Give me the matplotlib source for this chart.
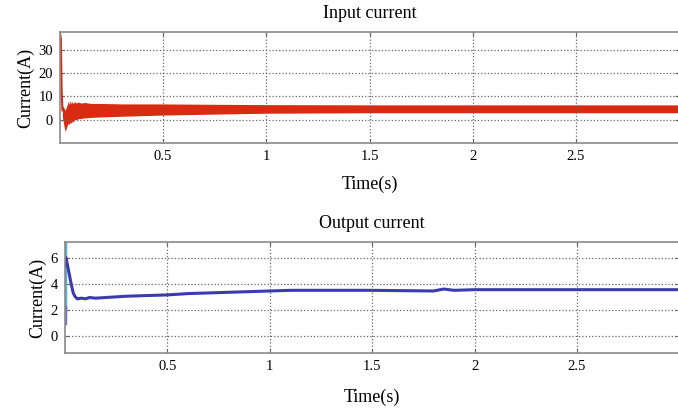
import matplotlib
matplotlib.use("Agg")
from matplotlib import pyplot as plt

# input current: start-up spike, then a ripple band (upper / lower envelope)
spike_t = [0.0, 0.004, 0.008, 0.012]
spike_i = [37, 35, 12, 4]
band_t = [0.012, 0.02, 0.025, 0.035, 0.04, 0.045, 0.05, 0.055, 0.06, 0.065, 0.07,
          0.08, 0.09, 0.1, 0.12, 0.15, 0.2, 0.3, 0.5, 0.8, 1.0, 1.5, 2.0, 3.0]
band_hi = [6, 5, 4, 6.5, 8, 6.5, 8.2, 6.8, 8, 6.8, 7.8,
           7.2, 7.6, 7.2, 7.4, 7.0, 7, 6.8, 6.8, 6.6, 6.5, 6.4, 6.4, 6.4]
band_lo = [1, -3, -5, -2.5, -1.5, -2, -1, -1.5, -0.5, -1, 0,
           0, 0.5, 0.5, 0.8, 1.0, 1.2, 1.5, 2, 2.5, 2.8, 3, 3, 3]

# output current
out_t = [0, 0.005, 0.01, 0.02, 0.03, 0.04, 0.05, 0.06, 0.08, 0.1, 0.12, 0.15, 0.2,
         0.25, 0.3, 0.4, 0.5, 0.6, 0.7, 0.8, 0.9, 1.0, 1.1, 1.2, 1.5, 1.8, 1.85,
         1.9, 2.0, 2.5, 3.0]
out_i = [5.4, 6.0, 5.6, 4.8, 4.0, 3.3, 3.0, 2.85, 2.9, 2.85, 2.95, 2.9, 2.95,
         3.0, 3.05, 3.1, 3.15, 3.25, 3.3, 3.35, 3.4, 3.45, 3.5, 3.5, 3.5, 3.45, 3.6,
         3.5, 3.55, 3.55, 3.55]
cyan_t = [0, 0]
cyan_i = [7.2, 2.2]
stub_t = [0, 0]
stub_i = [2.2, 1.0]

x_ticks = [0.5, 1, 1.5, 2, 2.5]
x_labels = ["0.5", "1", "1.5", "2", "2.5"]

plt.rcParams['font.family'] = ['Liberation Serif', 'DejaVu Serif']

fig = plt.figure(figsize=(6.78, 4.08), dpi=100)
ax1 = fig.add_axes([0.0885, 0.6495, 0.913, 0.272])
ax2 = fig.add_axes([0.0959, 0.1348, 0.906, 0.272])

red = '#d92a12'
ax1.plot(spike_t, spike_i, color=red, lw=1.5)
ax1.fill_between(band_t, band_lo, band_hi, color=red, lw=0)
ax1.set_ylim(-10, 37.7)
ax1.set_yticks([0, 10, 20, 30])
ax1.set_title("Input current", fontsize=13, pad=10)

ax2.plot(cyan_t, cyan_i, color='#4cb6e2', lw=2.5)
ax2.plot(stub_t, stub_i, color='#7070d0', lw=2.5)
ax2.plot(out_t, out_i, color='#3b3bb0', lw=2.2)
ax2.set_ylim(-1.3, 7.2)
ax2.set_yticks([0, 2, 4, 6])
ax2.set_title("Output current", fontsize=13, pad=10)

for ax in (ax1, ax2):
    ax.set_xlim(0, 3.0)
    ax.set_xticks(x_ticks)
    ax.set_xticklabels(x_labels)
    ax.grid(True, linestyle=':', color='#666666', lw=0.9)
    ax.tick_params(direction='in', length=3, labelsize=10.5, color='#666666',
                   top=True, right=True, pad=5)
    for s in ax.spines.values():
        s.set_color('#8a8a8a')
        s.set_linewidth(1.2)
    ax.set_ylabel("Current(A)", fontsize=13, labelpad=3)

ax1.set_xlabel("Time(s)", fontsize=13, labelpad=9)
ax2.set_xlabel("Time(s)", fontsize=13, labelpad=11)

fig.savefig("out.png", dpi=100)
